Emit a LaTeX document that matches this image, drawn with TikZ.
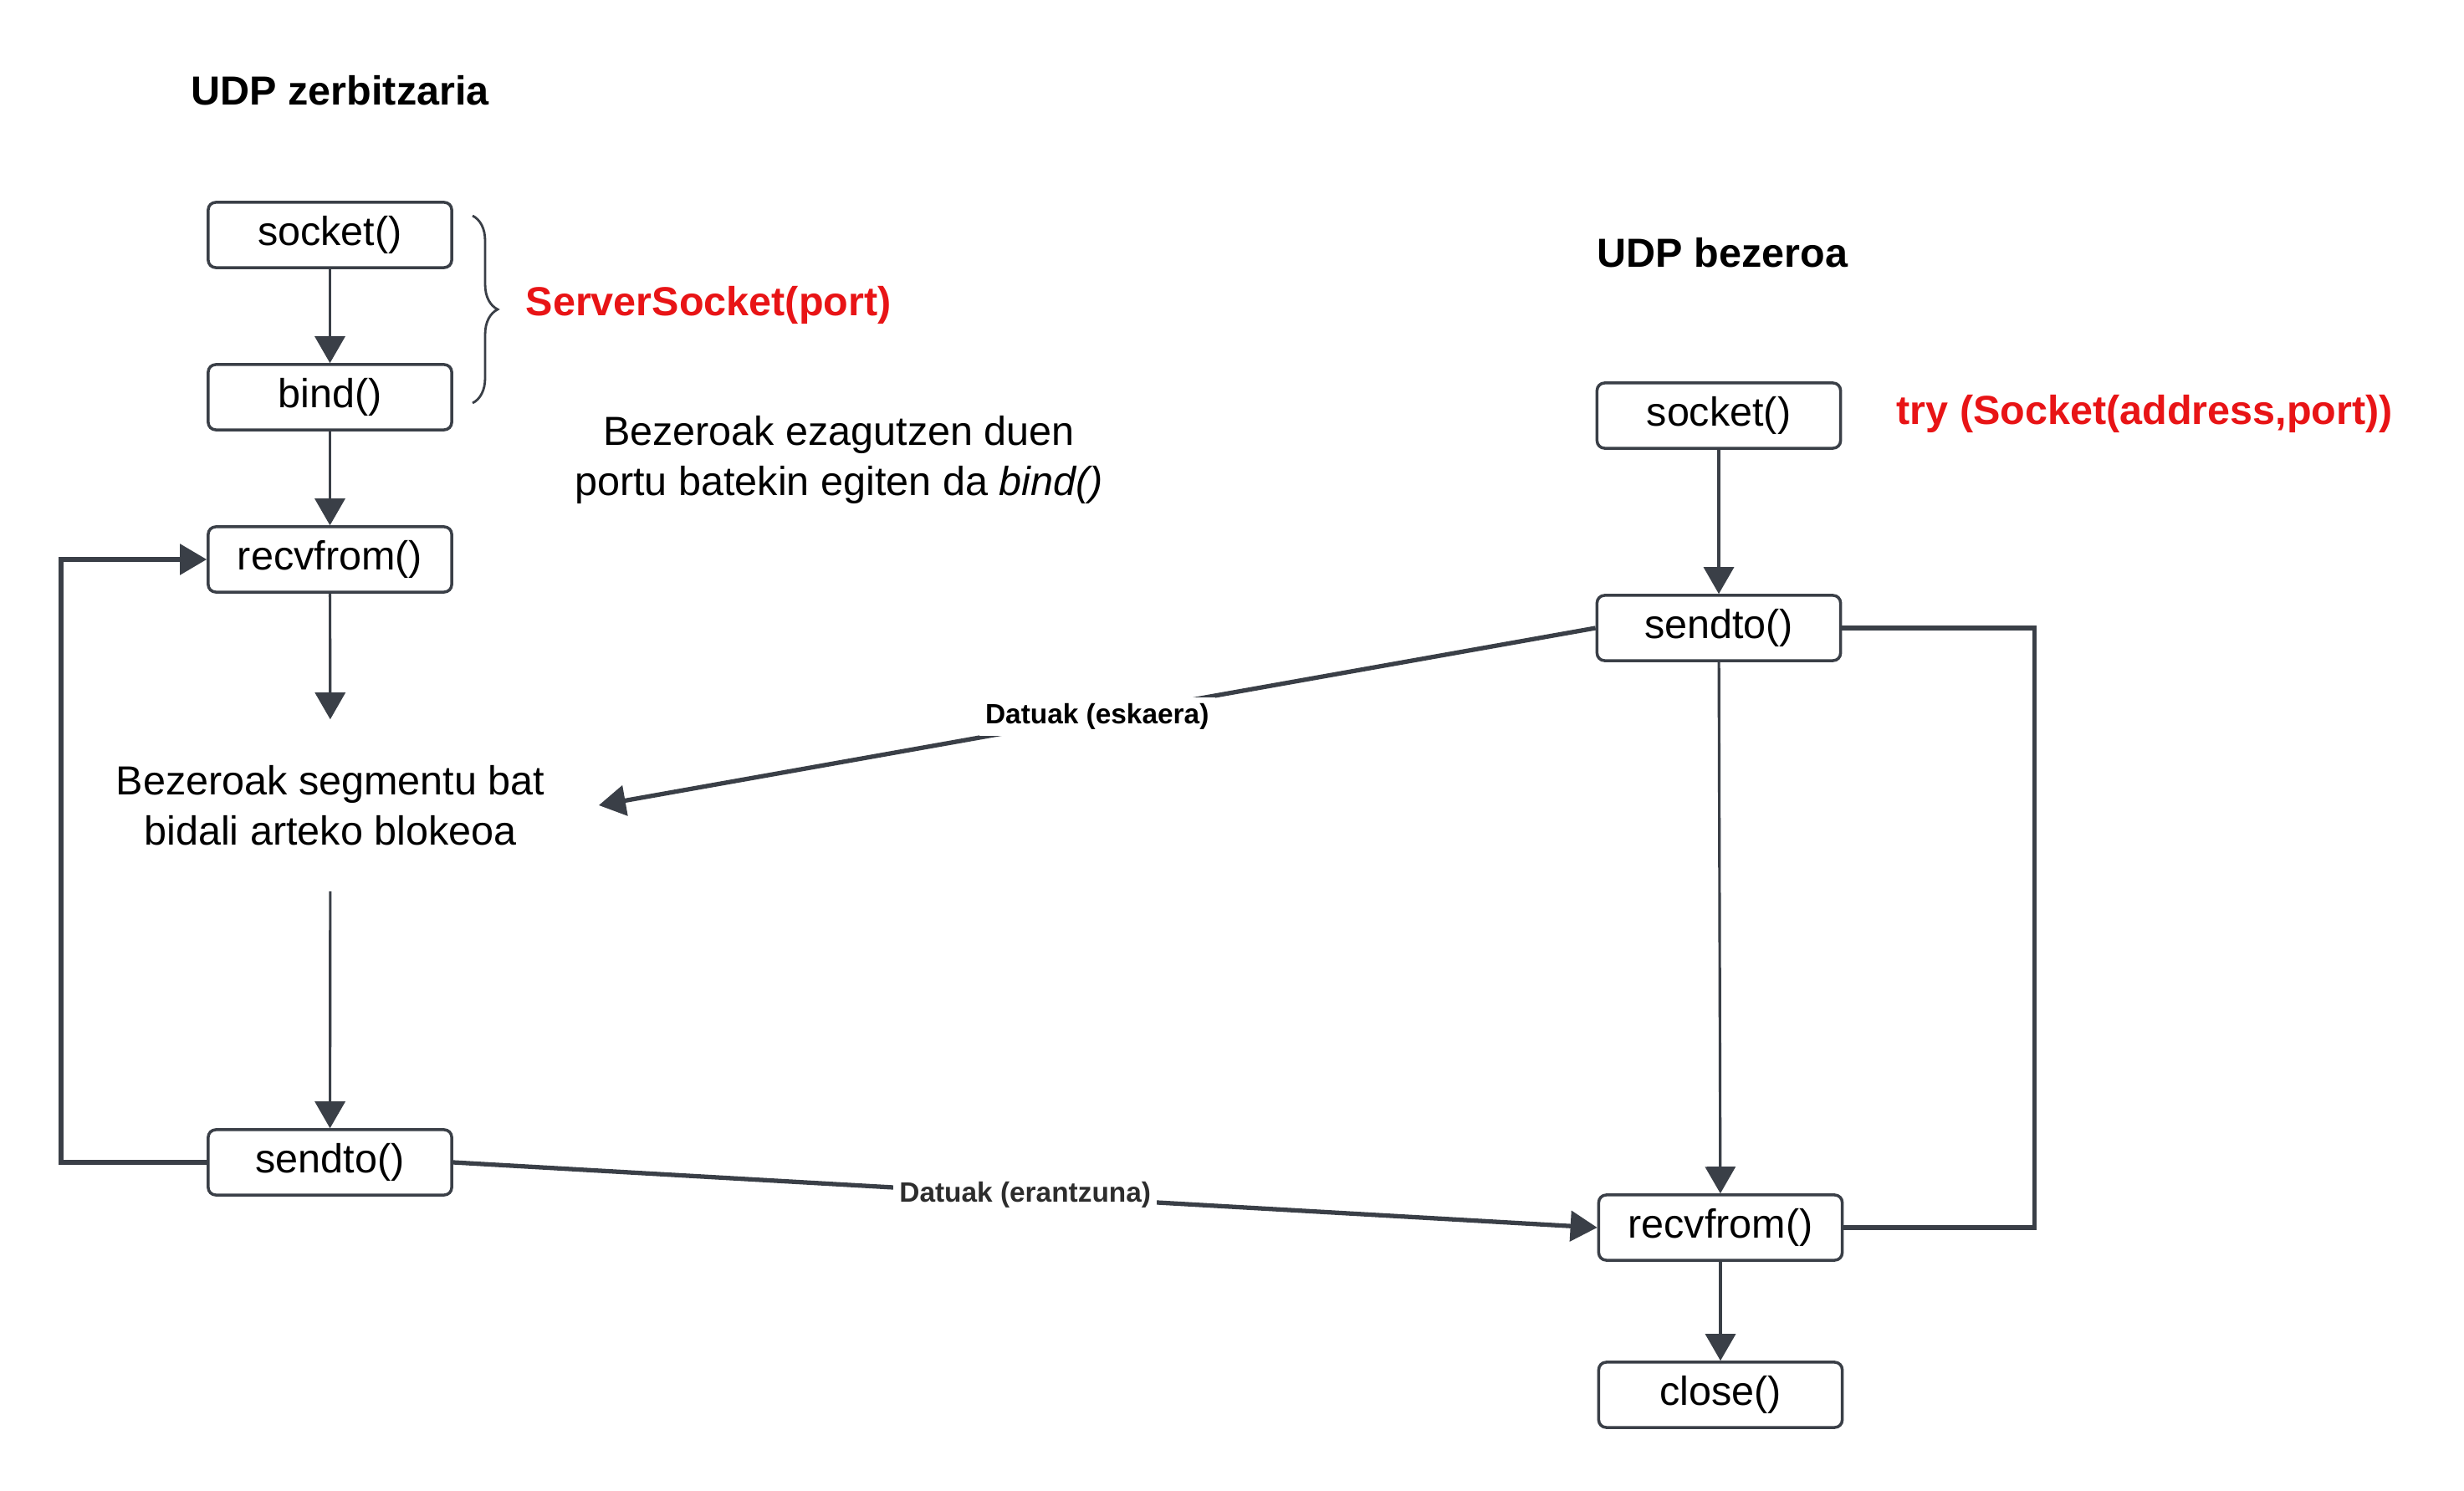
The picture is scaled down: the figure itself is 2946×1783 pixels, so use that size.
\documentclass[tikz,border=0pt]{standalone}
\usepackage{fontspec}
\setmainfont{Liberation Sans}
\usetikzlibrary{arrows.meta,decorations.pathreplacing}
\definecolor{ln}{RGB}{58,63,71}
\definecolor{redt}{RGB}{232,20,22}
\definecolor{labgray}{RGB}{45,45,45}
\begin{document}
\begin{tikzpicture}[x=0.01cm,y=-0.01cm,
  box/.style={draw=ln, line width=1pt, rounded corners=0.09cm, minimum width=2.91cm, minimum height=0.78cm, inner sep=0pt, fill=white, font=\fontsize{13.8pt}{16.8pt}\selectfont},
  txt/.style={inner sep=0pt, font=\fontsize{13.8pt}{17pt}\selectfont, align=center},
  ttl/.style={inner sep=0pt, anchor=west, font=\fontsize{13.8pt}{16.8pt}\selectfont\bfseries},
  redlab/.style={ttl, text=redt},
  tip/.style={-{Triangle[length=0.32cm,width=0.36cm]}},
  arr/.style={draw=ln, line width=0.9pt, tip},
  thickarr/.style={draw=ln, line width=1.5pt, tip},
  loopline/.style={draw=ln, line width=1.6pt},
  lab/.style={fill=white, inner sep=2pt, font=\fontsize{9.5pt}{11pt}\selectfont\bfseries}
]
\useasboundingbox (0,0) rectangle (2946,1783);

% titles
\node[ttl] (tserv) at (228,108) {UDP zerbitzaria};
\node[ttl] (tcli) at (1909,302) {UDP bezeroa};

% server column
\node[box] (ssock) at (394.5,281) {socket()};
\node[box] (sbind) at (394.5,475) {bind()};
\node[box] (srecv) at (394.5,669) {recvfrom()};
\node[txt, minimum width=6.4cm, minimum height=2.04cm] (block) at (395,963) {Bezeroak segmentu bat\\bidali arteko blokeoa};
\node[box] (ssend) at (394.5,1390) {sendto()};

% brace and notes
\coordinate (bt) at (565,258);
\coordinate (bb) at (565,482);
\draw[draw=ln, line width=0.8pt, decorate, decoration={brace, amplitude=0.3cm}] (bt) -- (bb);
\node[redlab] (ssrv) at (628,365) {ServerSocket(port)};
\node[txt] (note) at (1003,550) {Bezeroak ezagutzen duen\\portu batekin egiten da \textit{bind()}};

% client column
\node[box] (csock) at (2055,497) {socket()};
\node[redlab] (ctry) at (2267,495) {try (Socket(address,port))};
\node[box] (csend) at (2055,751) {sendto()};
\node[box] (crecv) at (2057,1468) {recvfrom()};
\node[box] (cclose) at (2057,1668) {close()};

% server connectors
\draw[arr] (ssock) -- (sbind);
\draw[arr] (sbind) -- (srecv);
\draw[arr] (srecv) -- (block);
\draw[arr] (block) -- (ssend);
\draw[loopline, tip] (ssend.west) -- ++(-174,0) |- (srecv.west);

% client connectors
\draw[arr] (csock) -- (csend);
\draw[arr] (csend) -- (crecv);
\draw[arr] (crecv) -- (cclose);
\draw[loopline] (csend.east) -- ++(230,0) |- (crecv.east);

% data exchange
\draw[thickarr] (csend.west) -- node[lab, text=black] {Datuak (eskaera)} (block.east);
\draw[thickarr] (ssend.east) -- node[lab, text=labgray] {Datuak (erantzuna)} (crecv.west);
\end{tikzpicture}
\end{document}
